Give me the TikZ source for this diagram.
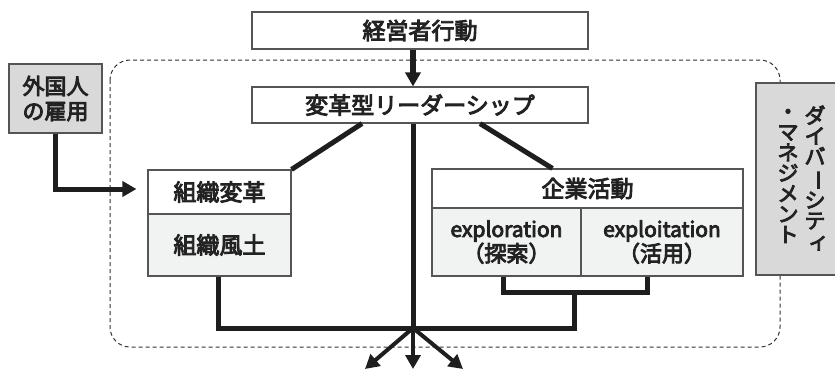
\documentclass[tikz,border=0pt]{standalone}
\usepackage{fontspec}
\usepackage{graphicx}
\setmainfont{Noto Sans CJK JP}
\newfontfamily\jpm{Noto Sans CJK JP}[FakeBold=4]
\usetikzlibrary{arrows.meta}
\definecolor{bordc}{HTML}{555555}
\definecolor{textc}{HTML}{222222}
\definecolor{linec}{HTML}{1E1E1E}
\definecolor{grayfill}{HTML}{D9D9D9}
\definecolor{lightfill}{HTML}{F1F2F2}
\definecolor{dashc}{HTML}{333333}
\newcommand\vbar{\rotatebox[origin=c]{-90}{ー}}
\begin{document}
\begin{tikzpicture}[x=1pt,y=-1pt,
  box/.style={draw=bordc, line width=1.1pt, inner sep=0pt, rectangle, text=textc,
    font=\jpm\fontsize{23}{25}\selectfont, align=center},
  thickln/.style={line width=5pt, draw=linec, line join=miter},
  arr/.style={-{Triangle[length=14pt,width=15pt]}},
  vtxt/.style={text=textc, font=\jpm\fontsize{21}{20.5}\selectfont, align=center, inner sep=0pt}
]
\useasboundingbox (0,0) rectangle (835,370);

% dashed region
\draw[dashc, line width=1pt, dash pattern=on 4pt off 3pt, rounded corners=20pt]
  (110,60) rectangle (780,347);

% boxes
\node[box, fill=white, minimum width=336pt, minimum height=37pt] (top) at (420,30.5) {経営者行動};
\node[box, fill=white, minimum width=336pt, minimum height=36pt] (lead) at (420,105) {変革型リーダーシップ};
\node[box, fill=grayfill, minimum width=93pt, minimum height=69pt,
  font=\jpm\fontsize{22}{25}\selectfont] (foreign) at (55.5,98.5) {外国人\\の雇用};
\node[box, fill=white, minimum width=143pt, minimum height=44pt] (soshiki) at (219.5,192) {組織変革};
\node[box, fill=lightfill, minimum width=143pt, minimum height=62pt] (fudo) at (219.5,245) {組織風土};
\node[box, fill=white, minimum width=311pt, minimum height=39pt] (kigyo) at (587.5,188.5) {企業活動};
\node[box, fill=lightfill, minimum width=149pt, minimum height=68pt,
  font=\jpm\fontsize{21}{20}\selectfont] (explo) at (506.5,242)
  {exploration\\{\fontsize{22}{20}\selectfont （探索）}};
\node[box, fill=lightfill, minimum width=162pt, minimum height=68pt,
  font=\jpm\fontsize{21}{20}\selectfont] (exploit) at (662,242)
  {exploitation\\{\fontsize{22}{20}\selectfont （活用）}};
\node[box, fill=grayfill, minimum width=84pt, minimum height=192pt] (div) at (798,179) {};
\node[vtxt] (div1) at (815,178) {ダ\\イ\\バ\\\vbar\\シ\\テ\\\hspace*{7pt}ィ};
\node[vtxt] (div2) at (788,176) {・\\マ\\ネ\\ジ\\メ\\ン\\ト};

% coordinates
\coordinate (junc) at (413,328);
\coordinate (br) at (574,292);
\coordinate (oL) at (365,369);
\coordinate (oC) at (413,369);
\coordinate (oR) at (463,369);

% connectors
\draw[thickln, arr, line width=5.5pt] (top.south -| junc) -- (lead.north -| junc);
\draw[thickln] ([xshift=-58pt]lead.south) -- (soshiki.north east);
\draw[thickln] ([xshift=60pt]lead.south) -- ([xshift=-35pt]kigyo.north);
\draw[thickln] (lead.south -| junc) -- (junc);
\draw[thickln] ([xshift=-1.5pt]fudo.south) |- (junc);
\draw[thickln] ([xshift=-3pt]explo.south) |- (br) -| ([xshift=-15pt]exploit.south);
\draw[thickln] (br) |- (junc);
\draw[thickln, arr] (foreign.south) |- ([xshift=-11pt,yshift=3pt]soshiki.west);
\draw[thickln, arr, line width=4pt] (junc) -- (oL);
\draw[thickln, arr, line width=4pt] (junc) -- (oC);
\draw[thickln, arr, line width=4pt] (junc) -- (oR);
\end{tikzpicture}
\end{document}
